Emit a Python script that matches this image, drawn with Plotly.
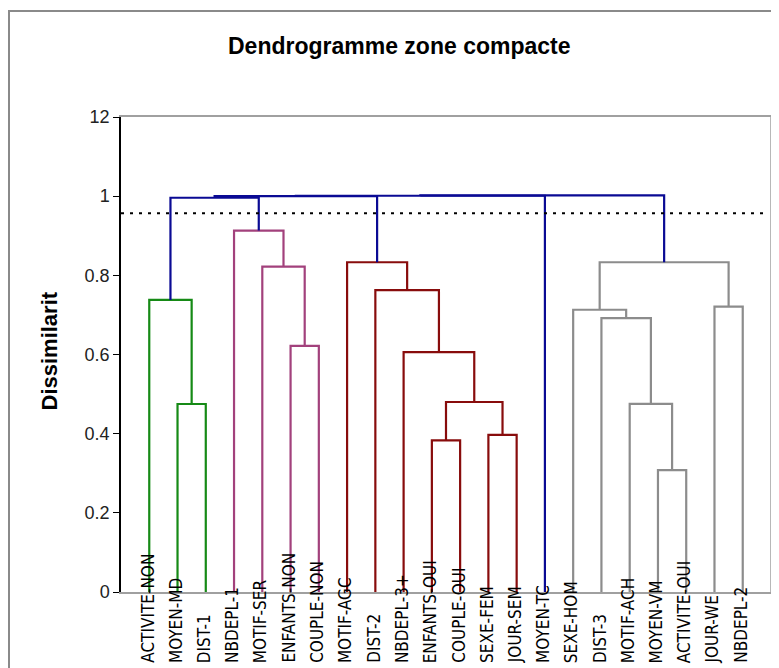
import plotly.graph_objects as go

# ---------------- data ----------------
leaves = ["ACTIVITE-NON", "MOYEN-MD", "DIST-1", "NBDEPL-1", "MOTIF-SER", "ENFANTS-NON",
          "COUPLE-NON", "MOTIF-AGC", "DIST-2", "NBDEPL-3+", "ENFANTS-OUI", "COUPLE-OUI",
          "SEXE-FEM", "JOUR-SEM", "MOYEN-TC", "SEXE-HOM", "DIST-3", "MOTIF-ACH",
          "MOYEN-VM", "ACTIVITE-OUI", "JOUR-WE", "NBDEPL-2"]

# merges: (left node, right node, height, cluster); new nodes numbered from len(leaves)
merge_left = [1, 0, 5, 4, 3, 10, 12, 27, 9, 8, 7, 18, 17, 16, 15, 20, 36, 23, 39, 40, 41]
merge_right = [2, 22, 6, 24, 25, 11, 13, 28, 29, 30, 31, 19, 33, 34, 35, 21, 37, 26, 32, 14, 38]
merge_height = [0.475, 0.738, 0.622, 0.822, 0.913, 0.383, 0.397, 0.480, 0.606, 0.7625, 0.833,
                0.308, 0.4755, 0.692, 0.713, 0.721, 0.833, 0.996, 1.000, 1.001, 1.002]
merge_cluster = ["green", "green", "pink", "pink", "pink", "red", "red", "red", "red", "red", "red",
                 "gray", "gray", "gray", "gray", "gray", "gray", "blue", "blue", "blue", "blue"]

threshold = 0.957
y_tickvals = [0, 0.2, 0.4, 0.6, 0.8, 1.0, 1.2]
y_ticktext = ["0", "0.2", "0.4", "0.6", "0.8", "1", "12"]

title_text = "Dendrogramme zone compacte"
ytitle_text = "Dissimilarit"

# ---------------- styles ----------------
colors = {"green": "#168a16", "pink": "#a2417c", "red": "#880c0c",
          "blue": "#0a0a94", "gray": "#8c8c8c"}
LW = 2.2

# ---------------- geometry through data coordinates ----------------
n = len(leaves)
pos = {i: float(i + 1) for i in range(n)}
hgt = {i: 0.0 for i in range(n)}

fig = go.Figure()
for k, (a, b, h, c) in enumerate(zip(merge_left, merge_right, merge_height, merge_cluster)):
    node = n + k
    xa, xb = pos[a], pos[b]
    fig.add_trace(go.Scatter(
        x=[xa, xa, xb, xb], y=[hgt[a], h, h, hgt[b]],
        mode="lines", line=dict(color=colors[c], width=LW),
        hoverinfo="skip", showlegend=False))
    pos[node] = (xa + xb) / 2
    hgt[node] = h

# threshold dotted line
fig.add_trace(go.Scatter(
    x=[0, 22.9], y=[threshold, threshold], mode="lines",
    line=dict(color="black", width=2, dash="3px,6px"),
    hoverinfo="skip", showlegend=False))

OFF = 8  # page body margin
W, H = 771, 660
ml, mr, mt, mb = 113, 8, 109, 76
pw, ph = W - ml - mr, H - mt - mb


def px_x(p):
    return (p - OFF - ml) / pw


def px_y(p):
    return (H - mb - (p - OFF)) / ph


label_font = dict(family="Liberation Sans Narrow, DejaVu Sans Condensed, Arial Narrow, Liberation Sans, sans-serif",
                  size=17, color="black")
annotations = []
for i, name in enumerate(leaves):
    annotations.append(dict(
        x=pos[i], xref="x", y=px_y(665), yref="paper",
        text=name, textangle=-90, showarrow=False,
        xanchor="center", yanchor="bottom", xshift=-2,
        font=label_font))

annotations.append(dict(
    x=px_x(399.5), y=px_y(46), xref="paper", yref="paper",
    text="<b>" + title_text + "</b>", showarrow=False,
    xanchor="center", yanchor="middle",
    font=dict(family="Liberation Sans, Arial, sans-serif", size=23, color="black")))

annotations.append(dict(
    x=px_x(48.5), y=px_y(351), xref="paper", yref="paper",
    text="<b>" + ytitle_text + "</b>", showarrow=False, textangle=-90,
    xanchor="center", yanchor="middle",
    font=dict(family="Liberation Sans, Arial, sans-serif", size=22, color="black")))

shapes = [
    # outer frame
    dict(type="rect", xref="paper", yref="paper",
         x0=px_x(9), x1=px_x(800), y0=px_y(700), y1=px_y(11),
         line=dict(color="#8a8a8a", width=2), layer="below"),
    # right border of plot area
    dict(type="line", xref="paper", yref="paper",
         x0=1, x1=1, y0=0, y1=1, line=dict(color="#a0a0a0", width=1.5)),
]

fig.update_layout(
    width=W, height=H,
    margin=dict(l=ml, r=mr, t=mt, b=mb),
    paper_bgcolor="white", plot_bgcolor="white",
    showlegend=False,
    annotations=annotations,
    shapes=shapes,
    xaxis=dict(range=[0, 23], showgrid=False, zeroline=False,
               showticklabels=False, ticks="",
               showline=True, linecolor="#a0a0a0", linewidth=1.5, mirror=True),
    yaxis=dict(range=[0, 1.2], showgrid=False, zeroline=False,
               tickvals=y_tickvals, ticktext=y_ticktext,
               ticks="outside", ticklen=6, tickcolor="black", tickwidth=1,
               showline=True, linecolor="black", linewidth=1.5,
               tickfont=dict(family="Liberation Sans, Arial, sans-serif", size=18, color="#222222")),
)

fig.write_html("out.html")
